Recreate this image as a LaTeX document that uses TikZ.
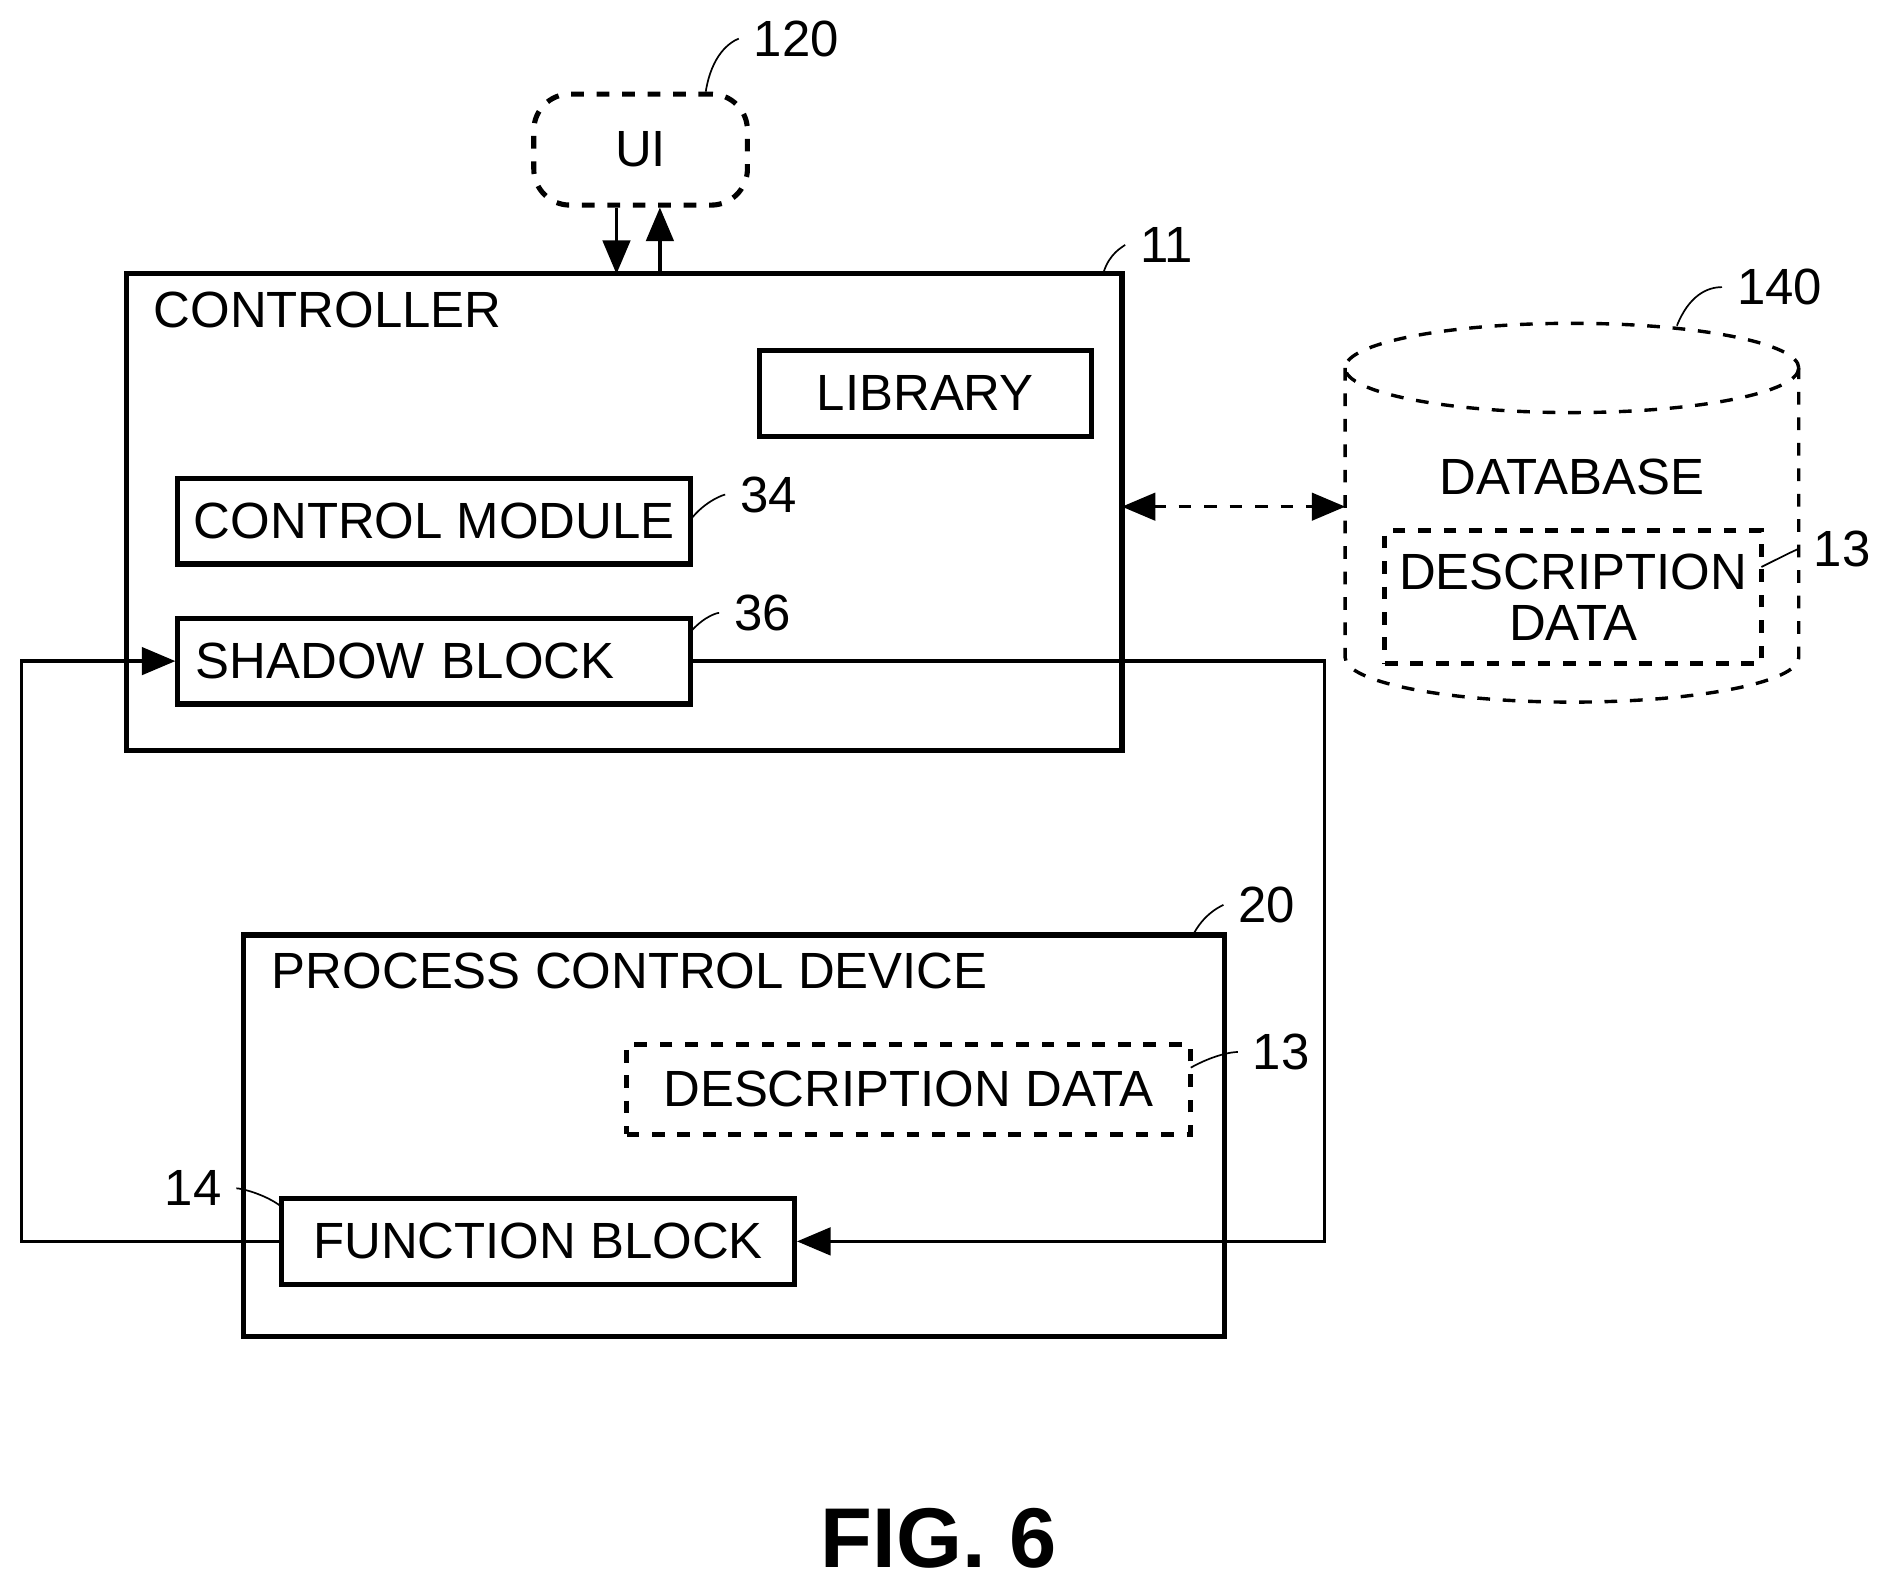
\documentclass[tikz,border=0pt]{standalone}
\usepackage{fontspec}
\setmainfont{Liberation Sans}
\usetikzlibrary{positioning}
\usetikzlibrary{arrows}

\begin{document}
\begin{tikzpicture}
	[x=0.01cm,y=-0.01cm,
	box/.style={draw, very thick, minimum height=0.71cm, inner sep=0pt, font=\fontsize{12}{14}\selectfont},
	dbox/.style={box, dashed},
	frame/.style={draw, very thick},
	tag/.style={font=\fontsize{12}{14}\selectfont},
	lead/.style={thin},
	link/.style={thick,->,>=triangle 45}]

\useasboundingbox (0,0) rectangle (1560,1310);

% UI
\node [box, rounded corners=0.3cm, dashed, minimum width=1.77cm, minimum height=0.92cm] (ui) at (531,124) {UI};
\node [tag] (n120) at (660,32) {120};
\draw [lead] (585,76) .. controls (590,45) and (605,35) .. (n120.west);

% controller
\draw [frame] (105,227) rectangle (930,622);
\node [tag, anchor=west] (ctrl) at (115,257) {CONTROLLER};
\coordinate (ctrlN1) at (511,227);
\coordinate (ctrlN2) at (547,227);
\node [tag] (n11) at (967,203) {11};
\draw [lead] (915,225) .. controls (920,210) and (930,205) .. (n11.west);
\node [box, minimum width=2.75cm] (lib) at (767,326) {LIBRARY};
\node [box, minimum width=4.25cm] (cm) at (360,432) {CONTROL MODULE};
\node [tag] (n34) at (637,410) {34};
\draw [lead] (573,430) .. controls (585,415) and (600,410) .. (n34.west);
\node [box, minimum width=4.25cm, text width=3.95cm, align=left] (sb) at (360,548) {SHADOW BLOCK};
\node [tag] (n36) at (632,508) {36};
\draw [lead] (573,523) .. controls (585,510) and (595,508) .. (n36.west);

\draw [link] (ui.south -| ctrlN1) -- (ctrlN1);
\draw [link] (ctrlN2) -- (ui.south -| ctrlN2);

% database
\draw [thick, dashed] (1303,305) ellipse (188 and 37);
\draw [thick, dashed] (1115,305) -- (1115,545) arc (180:0:188 and 37) -- (1491,305);
\node [tag] (dbt) at (1303,395) {DATABASE};
\node [dbox, minimum width=3.12cm, minimum height=1.1cm, align=center, inner sep=0pt] (dd1) at (1304,495) {DESCRIPTION\\[-2pt]DATA};
\node [tag] (n140) at (1475,238) {140};
\draw [lead] (1390,270) .. controls (1400,245) and (1415,238) .. (n140.west);
\node [tag] (n13a) at (1527,455) {13};
\draw [lead] (1460,470) .. controls (1480,460) and (1490,455) .. (n13a.west);
\coordinate (dbL) at (1115,420);
\coordinate (ctrlR) at (930,420);
\draw [thick, dashed, <->, >=triangle 45] (ctrlR) -- (dbL);

% process control device
\draw [frame] (202,775) rectangle (1015,1108);
\node [tag, anchor=west] (pcd) at (213,805) {PROCESS CONTROL DEVICE};
\node [tag] (n20) at (1050,750) {20};
\draw [lead] (990,773) .. controls (1000,755) and (1015,750) .. (n20.west);
\node [dbox, minimum width=4.67cm, minimum height=0.74cm] (dd2) at (753,903) {DESCRIPTION DATA};
\node [tag] (n13b) at (1062,872) {13};
\draw [lead] (987,885) .. controls (1005,875) and (1020,872) .. (n13b.west);
\node [box, minimum width=4.25cm] (fb) at (446,1029) {FUNCTION BLOCK};
\node [tag] (n14) at (160,985) {14};
\draw [lead] (n14.east) .. controls (200,985) and (220,990) .. (233,1000);

% loop
\coordinate (loopL) at (18,1029);
\coordinate (loopR) at (1098,548);
\draw [link] (fb.west) -- (loopL) |- (sb.west);
\draw [link] (sb.east) -- (loopR) |- (fb.east);

\node [font=\bfseries\fontsize{20}{24}\selectfont] (fig) at (778,1275) {FIG. 6};

\end{tikzpicture}
\end{document}
